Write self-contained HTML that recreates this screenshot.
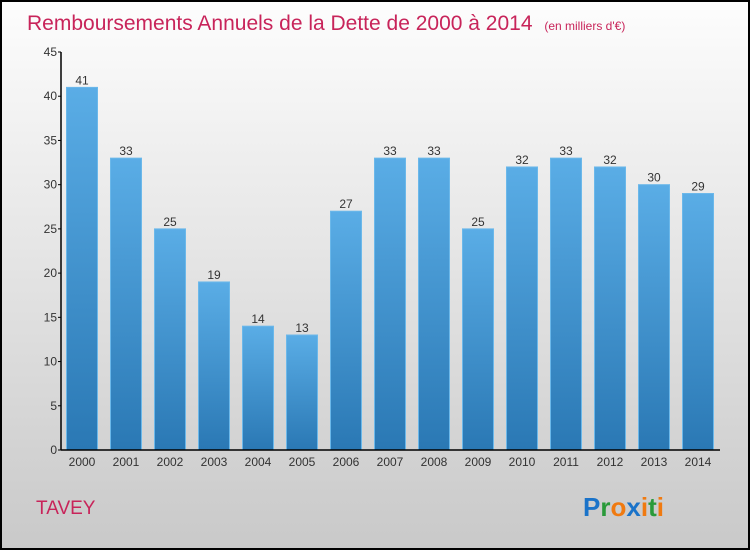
<!DOCTYPE html>
<html><head><meta charset="utf-8"><style>
body{margin:0;width:750px;height:550px;overflow:hidden;font-family:"Liberation Sans",sans-serif}
</style></head><body>
<svg id="chart" width="750" height="550" xmlns="http://www.w3.org/2000/svg">
<defs>
<linearGradient id="bg" x1="0" y1="0" x2="0" y2="1"><stop offset="0" stop-color="#fdfdfd"/><stop offset="1" stop-color="#c9c9c9"/></linearGradient>
<linearGradient id="bar" x1="0" y1="0" x2="0" y2="1"><stop offset="0" stop-color="#5aade6"/><stop offset="1" stop-color="#2a78b4"/></linearGradient>
</defs>
<rect x="1" y="1" width="748" height="548" fill="url(#bg)" stroke="#000" stroke-width="2"/>
<text x="27" y="30" font-size="21" fill="#c8245a">Remboursements Annuels de la Dette de 2000 à 2014 <tspan font-size="12" dx="6">(en milliers d'€)</tspan></text>
<text x="36" y="514" font-size="19" fill="#c8245a">TAVEY</text>
<text x="583" y="516" font-size="26" font-weight="bold"><tspan fill="#1a73c9">P</tspan><tspan fill="#2a9a3a">r</tspan><tspan fill="#f07a10">o</tspan><tspan fill="#1a73c9">x</tspan><tspan fill="#f07a10">i</tspan><tspan fill="#2a9a3a">t</tspan><tspan fill="#f07a10">i</tspan></text>
<g id="plot"></g>
</svg>
<script>
const years=["2000","2001","2002","2003","2004","2005","2006","2007","2008","2009","2010","2011","2012","2013","2014"];
const values=[41,33,25,19,14,13,27,33,33,25,32,33,32,30,29];
const ticks=[0,5,10,15,20,25,30,35,40,45];
const NS="http://www.w3.org/2000/svg";
const g=document.getElementById('plot');
const y0=450,yTop=52,yMax=45,x0=61,step=44,bw=31;
const y=v=>y0-(v/yMax)*(y0-yTop);
const xc=i=>82+i*step;
function el(t,a,txt){const e=document.createElementNS(NS,t);for(const k in a)e.setAttribute(k,a[k]);if(txt!==undefined)e.textContent=txt;g.appendChild(e);return e;}
values.forEach((v,i)=>{
 const r=el('rect',{x:xc(i)-bw/2,y:y(v),width:bw,height:y0-y(v),fill:'url(#bar)',stroke:'#6bb8ea','stroke-width':1});
 
 
 const l=el('text',{x:xc(i),y:y(v)-3,'font-size':12,fill:'#333','text-anchor':'middle'},String(v));
 
 
 const xl=el('text',{x:xc(i),y:466,'font-size':12,fill:'#333','text-anchor':'middle'},years[i]);
 
 
});
ticks.forEach(t=>{
 const tk=el('line',{x1:x0-3,x2:x0,y1:y(t),y2:y(t),stroke:'#000'});
 
 
 const tl=el('text',{x:x0-4,y:y(t)+4,'font-size':12,fill:'#333','text-anchor':'end'},String(t));
 
 
});
const ya=el('line',{x1:x0,x2:x0,y1:yTop,y2:y0,stroke:'#000','stroke-width':1.5});


const xa=el('line',{x1:x0,x2:720,y1:y0,y2:y0,stroke:'#000','stroke-width':1.5});


</script>
</body></html>
